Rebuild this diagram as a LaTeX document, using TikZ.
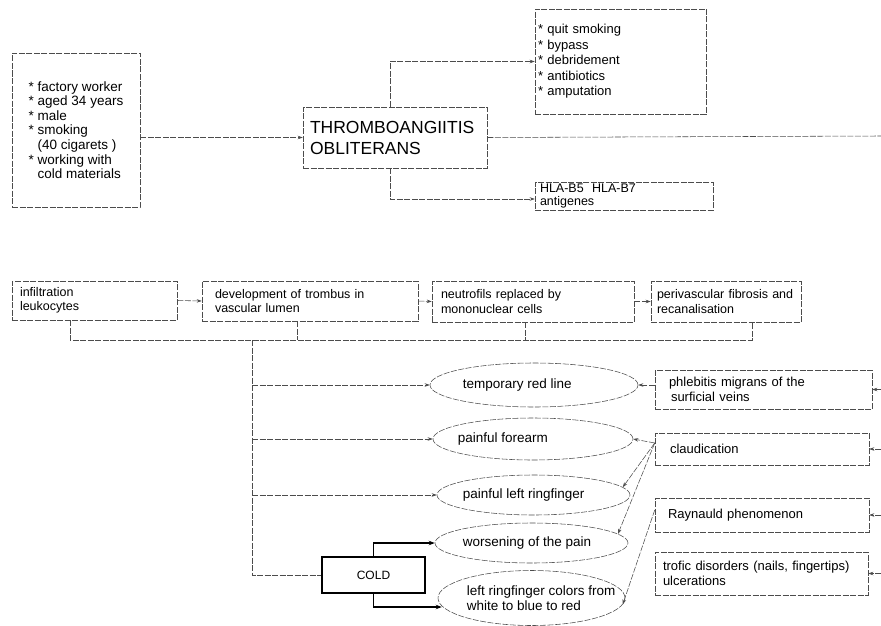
\documentclass[tikz,border=0pt]{standalone}
\usepackage{fontspec}
\setmainfont{Liberation Sans}
\usetikzlibrary{arrows.meta,shapes.geometric,calc}
\newcommand{\bulind}{\hphantom{*\ }}
\begin{document}
\begin{tikzpicture}[x=1pt,y=-1pt,
  ln/.style={draw=black!70,line width=0.55pt,dash pattern=on 6pt off 1.5pt},
  arr/.style={ln,-{Stealth[length=5pt,width=3.5pt]}},
  tarr/.style={draw=black,line width=1.5pt,-{Stealth[length=6pt,width=4.5pt]}},
  box/.style={ln,rectangle,align=left,inner ysep=0pt,font=\fontsize{12.5}{14.5}\selectfont},
  rbox/.style={box,font=\fontsize{13}{14.5}\selectfont},
  ell/.style={ln,ellipse,inner sep=0pt},
  etxt/.style={anchor=west,inner sep=0pt,align=left,font=\fontsize{13.5}{15}\selectfont},
  coldbox/.style={draw=black,line width=1.6pt,rectangle,font=\fontsize{12}{14}\selectfont}
]
\useasboundingbox (0,0) rectangle (881,626);

% top part
\node[box,minimum width=128pt,minimum height=154pt,inner xsep=0pt,
  font=\fontsize{13.5}{14.6}\selectfont] (risk) at (76,130)
 {* factory worker\\{}* aged 34 years\\{}* male\\{}* smoking\\\bulind(40 cigarets )\\{}* working with\\\bulind cold materials\hspace{6pt}};
\node[box,minimum width=184pt,minimum height=61pt,inner xsep=7pt,text width=170pt,
  font=\fontsize{17.5}{21}\selectfont] (thrombo) at (395,137.5) {THROMBOANGIITIS\\OBLITERANS};
\node[box,minimum width=171pt,minimum height=105pt,inner xsep=3pt,text width=165pt,
  font=\fontsize{13}{15.5}\selectfont] (treat) at (620.5,61.5)
 {* quit smoking\\{}* bypass\\{}* debridement\\{}* antibiotics\\{}* amputation};
\node[box,minimum width=178pt,minimum height=28pt,inner xsep=5pt,inner ysep=1.5pt,text width=168pt,
  font=\fontsize{12.5}{13.5}\selectfont] (hla) at (624,196) {HLA-B5\ \ HLA-B7\\antigenes};

\coordinate (edge) at (881,136);
\draw[arr] (risk.east |- thrombo.west) -- (thrombo.west);
\draw[arr] ([xshift=-5pt]thrombo.north) |- (treat.west);
\draw[arr] ([xshift=-5pt]thrombo.south) |- ([yshift=-3pt]hla.west);
\draw[ln] (thrombo.east) -- (edge);

% process row
\node[box,minimum width=165pt,minimum height=39pt,inner xsep=8pt,text width=149pt] (infil) at (94.5,300.5)
 {infiltration\\leukocytes};
\node[box,minimum width=216pt,minimum height=40pt,inner xsep=13pt,text width=190pt] (devel) at (310,301)
 {development of trombus in\\vascular lumen};
\node[box,minimum width=202pt,minimum height=41pt,inner xsep=9pt,text width=184pt] (neutro) at (533,301.5)
 {neutrofils replaced by\\mononuclear cells};
\node[box,minimum width=150pt,minimum height=41pt,inner xsep=6pt,text width=138pt] (periv) at (726,301.5)
 {perivascular fibrosis and\\recanalisation};

\draw[arr] (infil.east) -- (devel.west);
\draw[arr] (devel.east) -- (neutro.west);
\draw[arr] (neutro.east) -- (periv.west);

\coordinate (bl) at (70,340);
\coordinate (br) at (752,340);
\coordinate (t0) at (252,340);
\draw[ln] (infil.south -| bl) -- (bl) -- (br) -- (periv.south -| br);
\draw[ln] ([xshift=-13pt]devel.south) -- ([xshift=-13pt]devel.south |- bl);
\draw[ln] ([xshift=-8pt]neutro.south) -- ([xshift=-8pt]neutro.south |- bl);

% ellipses
\node[ell,minimum width=208pt,minimum height=44pt] (e1) at (534,385) {};
\node[etxt] (e1t) at ([xshift=33pt]e1.west) {temporary red line};
\node[ell,minimum width=200pt,minimum height=42pt] (e2) at (533,439) {};
\node[etxt] (e2t) at ([xshift=25pt]e2.west) {painful forearm};
\node[ell,minimum width=193pt,minimum height=40pt] (e3) at (533.5,495) {};
\node[etxt] (e3t) at ([xshift=26pt]e3.west) {painful left ringfinger};
\node[ell,minimum width=193pt,minimum height=40pt] (e4) at (531.5,543) {};
\node[etxt] (e4t) at ([xshift=28pt]e4.west) {worsening of the pain};
\node[ell,minimum width=187pt,minimum height=55pt] (e5) at (531.5,598) {};
\node[etxt] (e5t) at ([xshift=29pt]e5.west) {left ringfinger colors from\\white to blue to red};

\node[coldbox,minimum width=103pt,minimum height=36pt] (cold) at (373.5,575) {COLD};

\draw[ln] (t0) |- (cold.west);
\draw[arr] (t0 |- e1.west) -- (e1.west);
\draw[arr] (t0 |- e2.west) -- (e2.west);
\draw[arr] (t0 |- e3.west) -- (e3.west);
\draw[tarr] (cold.north) |- (e4.west);
\draw[tarr] (cold.south) |- ([shift={(4pt,-9pt)}]e5.west);

% right boxes
\node[rbox,minimum width=217pt,minimum height=39pt,inner xsep=14pt,text width=189pt] (phleb) at (763.5,389.5)
 {phlebitis migrans of the\\\hspace{2pt}surficial veins};
\node[rbox,minimum width=214pt,minimum height=32pt,inner xsep=15pt,text width=184pt] (claud) at (762,449)
 {claudication};
\node[rbox,minimum width=214pt,minimum height=34pt,inner xsep=13pt,text width=188pt] (rayn) at (762,515)
 {Raynauld phenomenon};
\node[rbox,minimum width=213pt,minimum height=43pt,inner xsep=8pt,text width=197pt] (trofic) at (761.5,573.5)
 {trofic disorders (nails, fingertips)\\ulcerations};

\draw[arr] (phleb.west |- e1.east) -- (e1.east);
\draw[arr] ([yshift=6pt]claud.west) -- (e2.east);
\draw[arr] ([yshift=6pt]claud.west) -- (e3.5);
\draw[arr] ([yshift=6pt]claud.west) -- (e4.6);
\draw[arr] ([yshift=5pt]rayn.west) -- (e5.-4);

\draw[arr] (phleb.east -| edge) -- (phleb.east);
\draw[arr] (claud.east -| edge) -- (claud.east);
\draw[arr] (rayn.east -| edge) -- (rayn.east);
\draw[arr] (trofic.east -| edge) -- (trofic.east);
\end{tikzpicture}
\end{document}
